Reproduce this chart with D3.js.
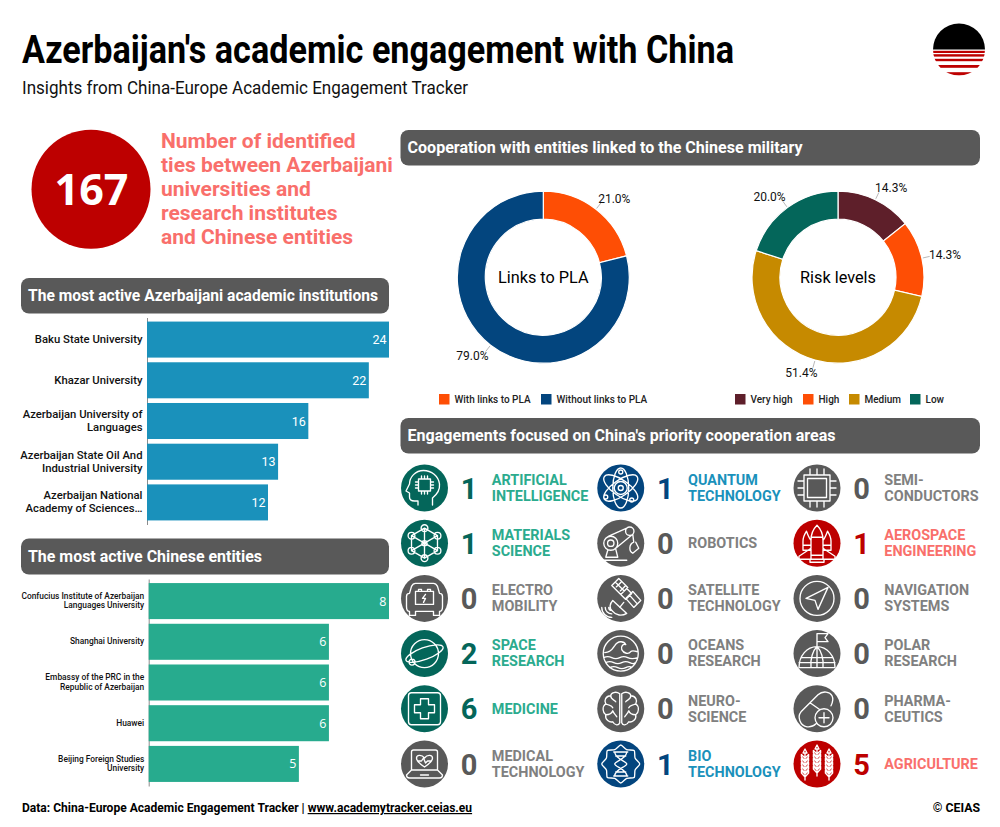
<!DOCTYPE html>
<html>
<head>
<meta charset="utf-8">
<title>Azerbaijan's academic engagement with China</title>
<script src="https://cdn.jsdelivr.net/npm/d3@7"></script>
<style>
    html, body { margin: 0; padding: 0; background: #fff; }
    svg { display: block; font-family: Roboto, sans-serif; }
    .cardHead { fill: #595959; }
    .cardTitle { fill: #fff; font-weight: 700; font-size: 16.2px; }
</style>
</head>
<body>
<div id="container"></div>
<script>
const institutions = ["Baku State University", "Khazar University", "Azerbaijan University of|Languages", "Azerbaijan State Oil And|Industrial University", "Azerbaijan National|Academy of Sciences…"];
const institutionTies = [24, 22, 16, 13, 12];

const entities = ["Confucius Institute of Azerbaijan|Languages University", "Shanghai University", "Embassy of the PRC in the|Republic of Azerbaijan", "Huawei", "Beijing Foreign Studies|University"];
const entityTies = [8, 6, 6, 6, 5];

const plaLabels = ["With links to PLA", "Without links to PLA"];
const plaShares = [21.0, 79.0];

const riskLabels = ["Very high", "High", "Medium", "Low"];
const riskShares = [14.3, 14.3, 51.4, 20.0];

const totalTies = 167;
const areaNames = [
    "ARTIFICIAL|INTELLIGENCE", "MATERIALS|SCIENCE", "ELECTRO|MOBILITY", "SPACE|RESEARCH", "MEDICINE", "MEDICAL|TECHNOLOGY",
    "QUANTUM|TECHNOLOGY", "ROBOTICS", "SATELLITE|TECHNOLOGY", "OCEANS|RESEARCH", "NEURO-|SCIENCE", "BIO|TECHNOLOGY",
    "SEMI-|CONDUCTORS", "AEROSPACE|ENGINEERING", "NAVIGATION|SYSTEMS", "POLAR|RESEARCH", "PHARMA-|CEUTICS", "AGRICULTURE"
];
const areaCounts = [1, 1, 0, 2, 6, 0, 1, 0, 0, 0, 0, 1, 0, 1, 0, 0, 0, 5];
const areaGroups = ["teal", "teal", "none", "teal", "teal", "none", "blue", "none", "none", "none", "none", "blue", "none", "red", "none", "none", "none", "red"];
const areaIcons = ["ai", "materials", "electro", "space", "medicine", "medtech", "quantum", "robotics", "satellite", "oceans", "neuro", "bio", "semi", "aero", "nav", "polar", "pharma", "agri"];

const RED = "#bd0000", SALMON = "#f96f6b", ORANGE = "#fe4e05", NAVY = "#03457e", MAROON = "#5e1f2a", GOLD = "#c68a00", TEAL = "#04665a";
const groupDark = {teal: TEAL, blue: NAVY, red: RED, none: "#595959"};
const groupLight = {teal: "#2bab8e", blue: "#1a91bb", red: "#f96f6b", none: "#808080"};

const svg = d3.select("#container").append("svg").attr("width", 1000).attr("height", 827);
svg.append("rect").attr("width", 1000).attr("height", 827).attr("fill", "#fff");

// title block
svg.append("text").attr("x", 22).attr("y", 63).attr("font-size", 38).attr("font-weight", 700).attr("fill", "#000")
    .attr("textLength", 712).attr("lengthAdjust", "spacingAndGlyphs")
    .text("Azerbaijan's academic engagement with China");
svg.append("text").attr("x", 22).attr("y", 94).attr("font-size", 18.5).attr("fill", "#111")
    .attr("textLength", 446).attr("lengthAdjust", "spacingAndGlyphs")
    .text("Insights from China-Europe Academic Engagement Tracker");

// logo
const logoClip = svg.append("clipPath").attr("id", "logoClip");
logoClip.append("circle").attr("cx", 959).attr("cy", 49.5).attr("r", 26);
const logo = svg.append("g").attr("clip-path", "url(#logoClip)");
logo.append("rect").attr("x", 930).attr("y", 20).attr("width", 60).attr("height", 29.5).attr("fill", "#000");
[[50.8, 2.2], [54.2, 2.4], [58.8, 2.4], [65, 2.8], [72.2, 3.4]].forEach(s => {
    logo.append("rect").attr("x", 930).attr("y", s[0]).attr("width", 60).attr("height", s[1]).attr("fill", RED);
});

// total ties
svg.append("circle").attr("cx", 91).attr("cy", 189.3).attr("r", 59.5).attr("fill", RED);
svg.append("text").attr("x", 91.5).attr("y", 205).attr("text-anchor", "middle").attr("fill", "#fff")
    .attr("font-family", "'Open Sans'").attr("font-weight", 700).attr("font-size", 43).text(totalTies);
["Number of identified", "ties between Azerbaijani", "universities and", "research institutes", "and Chinese entities"].forEach((line, i) => {
    svg.append("text").attr("x", 161).attr("y", 148 + i * 24).attr("font-size", 21).attr("font-weight", 700)
        .attr("fill", SALMON).text(line);
});

function cardHead(x, y, w, h, label, labelWidth) {
    svg.append("rect").attr("class", "cardHead").attr("x", x).attr("y", y).attr("width", w).attr("height", h).attr("rx", 8);
    svg.append("text").attr("class", "cardTitle").attr("x", x + 7).attr("y", y + h / 2 + 5.5)
        .attr("textLength", labelWidth).attr("lengthAdjust", "spacingAndGlyphs").text(label);
}
cardHead(21, 278, 368, 35.5, "The most active Azerbaijani academic institutions", 350);
cardHead(21, 538.5, 368, 36, "The most active Chinese entities", 234);
cardHead(400.5, 130, 579.5, 35.5, "Cooperation with entities linked to the Chinese military", 395);
cardHead(400.5, 418, 579.5, 35.5, "Engagements focused on China's priority cooperation areas", 428);

function barChart(names, values, opts) {
    const x = d3.scaleLinear().domain([0, d3.max(values)]).range([opts.left, 389]);
    const y = d3.scaleBand().domain(names).range([opts.top, opts.bottom]).paddingInner(0.115).paddingOuter(0.1);

    const axis = svg.append("g").attr("transform", `translate(${opts.left}, 0)`)
        .call(d3.axisLeft(y).tickSize(0).tickPadding(4).tickFormat(""));
    axis.select(".domain").attr("stroke", "#8c8c8c").attr("stroke-width", 1);
    axis.selectAll(".tick").each(function(d) {
        const lines = d.split("|");
        const label = d3.select(this).select("text").text(null)
            .attr("font-family", "Roboto").attr("font-weight", 500).attr("font-size", opts.labelSize)
            .attr("fill", "#111").attr("dy", null).attr("x", -4.5);
        lines.forEach((line, i) => {
            label.append("tspan").attr("x", -4.5)
                .attr("y", (i - (lines.length - 1) / 2) * opts.lineGap + opts.labelSize * 0.35 - 0.5)
                .text(line);
        });
    });

    svg.append("g").selectAll("rect").data(values).enter().append("rect")
        .attr("x", opts.left)
        .attr("y", (d, i) => y(names[i]))
        .attr("width", d => x(d) - opts.left)
        .attr("height", y.bandwidth())
        .attr("fill", opts.color);

    svg.append("g").selectAll("text").data(values).enter().append("text")
        .attr("x", d => x(d) - 2.5)
        .attr("y", (d, i) => y(names[i]) + y.bandwidth() / 2 + 4.5)
        .attr("text-anchor", "end")
        .attr("fill", "#fff")
        .attr("font-family", opts.valueFont)
        .attr("font-weight", 400)
        .attr("font-size", 12.5)
        .text(d => d);
}

barChart(institutions, institutionTies, {left: 147, top: 317.5, bottom: 524.5, color: "#1a91bb", labelSize: 11.3, lineGap: 13, valueFont: "Roboto"});
barChart(entities, entityTies, {left: 148.7, top: 579, bottom: 786, color: "#27ab8e", labelSize: 8.4, lineGap: 9.5, valueFont: "'Open Sans'"});

function donut(cx, names, shares, colors, centerLabel, legendSlots) {
    const cy = 277.2, outer = 86, inner = 58;
    const g = svg.append("g").attr("transform", `translate(${cx}, ${cy})`);
    const slices = d3.pie().sort(null)(shares);
    const arc = d3.arc().innerRadius(inner).outerRadius(outer);

    g.selectAll("path.slice").data(slices).enter().append("path").attr("class", "slice")
        .attr("d", arc)
        .attr("fill", (d, i) => colors[i])
        .attr("stroke", "#fff")
        .attr("stroke-width", 1.2);

    slices.forEach(s => {
        const mid = (s.startAngle + s.endAngle) / 2;
        const sx = Math.sin(mid), sy = -Math.cos(mid);
        g.append("line")
            .attr("x1", sx * (outer + 1)).attr("y1", sy * (outer + 1))
            .attr("x2", sx * (outer + 8)).attr("y2", sy * (outer + 8))
            .attr("stroke", "#999").attr("stroke-width", 0.7);
        g.append("text")
            .attr("x", sx * (outer + 13.5) + Math.sign(sx) * 10)
            .attr("y", sy * (outer + 13.5) + 4)
            .attr("text-anchor", "middle")
            .attr("font-size", 12)
            .attr("fill", "#111")
            .text(d3.format(".1f")(s.value) + "%");
    });

    g.append("text").attr("y", 6).attr("text-anchor", "middle").attr("font-size", 16.3).attr("fill", "#000").text(centerLabel);

    names.forEach((name, i) => {
        svg.append("rect").attr("x", legendSlots[i]).attr("y", 394).attr("width", 10.5).attr("height", 10.5).attr("fill", colors[i]);
        svg.append("text").attr("x", legendSlots[i] + 15.5).attr("y", 403).attr("font-size", 10).attr("font-weight", 500).attr("fill", "#222").text(name);
    });
}

donut(543.3, plaLabels, plaShares, [ORANGE, NAVY], "Links to PLA", [439, 541]);
donut(838, riskLabels, riskShares, [MAROON, ORANGE, GOLD, TEAL], "Risk levels", [735, 803, 849, 910]);

// line icons for the priority areas, drawn around the centre of each badge
const circ = (x, y, r) => `M${x - r} ${y}a${r} ${r} 0 1 0 ${2 * r} 0a${r} ${r} 0 1 0 ${-2 * r} 0`;
const orbit = (rx, ry, deg) => {
    const a = deg * Math.PI / 180, dx = rx * Math.cos(a), dy = rx * Math.sin(a);
    return `M${-dx} ${-dy}A${rx} ${ry} ${deg} 1 0 ${dx} ${dy}A${rx} ${ry} ${deg} 1 0 ${-dx} ${-dy}`;
};
const hexNodes = d3.range(6).map(i => [15 * Math.sin(i * Math.PI / 3), -15 * Math.cos(i * Math.PI / 3)]);
const wheat = (x, top) => {
    let d = `M${x} ${top + 4}V${top + 31}`;
    d3.range(5).forEach(i => {
        const y = top + 9 + i * 4;
        d += `M${x} ${y}L${x - 3.6} ${y - 3.6}V${y - 1}L${x} ${y + 3}L${x + 3.6} ${y - 1}V${y - 3.6}Z`;
    });
    return d + `M${x} ${top}l-2 4h4Z`;
};
const gearLine = d3.lineRadial().curve(d3.curveCardinalClosed.tension(0.3));
const gear = gearLine(d3.range(16).map(i => [i * Math.PI / 8, i % 2 ? 15.5 : 19]));

const iconPaths = {
    ai: "M8 17V10C13 6 15.5 1 15 -4C14 -12 7 -17.5 -1 -17.5C-9 -17.5 -15 -11 -15 -4L-18.5 3L-15 5V9C-15 12 -13 13 -10 13H-6.5V17M-6 -9H6V3H-6ZM-3 -12V-9M0 -12V-9M3 -12V-9M-3 3V6M0 3V6M3 3V6M-9 -6H-6M-9 -3H-6M-9 0H-6M6 -6H9M6 -3H9M6 0H9",
    materials: hexNodes.map(n => circ(n[0], n[1], 3.4)).join("") + circ(0, 0, 2.6)
        + hexNodes.map((n, i) => `M${n[0]} ${n[1]}L${hexNodes[(i + 1) % 6][0]} ${hexNodes[(i + 1) % 6][1]}L0 0Z`).join(""),
    electro: "M-15 13V17H-9V13H9V17H15V13C18 13 18 10 18 8V-2C18 -4 17 -5 15 -5L13 -12C12 -14 11 -15 9 -15H-9C-11 -15 -12 -14 -13 -12L-15 -5C-17 -5 -18 -4 -18 -2V8C-18 10 -18 13 -15 13ZM-9 -7H9V6H-9ZM-6 -7V-9H-3V-7M3 -7V-9H6V-7M1 -4L-2 0H1L-1 4",
    space: circ(0, 0, 14) + orbit(19.7, 6, -20) + circ(-12.5, 8.5, 3),
    medicine: "M-13 -16H13Q16 -16 16 -13V13Q16 16 13 16H-13Q-16 16 -16 13V-13Q-16 -16 -13 -16ZM-4 -10H4V-4H10V4H4V10H-4V4H-10V-4H-4Z",
    medtech: "M-13 6V-12Q-13 -14 -11 -14H11Q13 -14 13 -12V6M-18 11L-13 6H13L18 11Q18 14 15 14H-15Q-18 14 -18 11ZM-4 11H4M0 3C-6 -1 -8 -3 -8 -6C-8 -9 -3 -10 0 -6C3 -10 8 -9 8 -6C8 -3 6 -1 0 3ZM-7 -3H-3L-1 -6L1 -1L3 -3H7",
    quantum: orbit(20, 8, 35) + orbit(20, 8, 90) + orbit(20, 8, 145) + circ(0, 0, 6.5) + circ(0, 0, 2.5) + circ(0, -16, 2) + circ(-15, 9, 2) + circ(11, 12, 2),
    robotics: circ(-10, 0, 7) + circ(-10, 0, 3.2) + circ(9, -12, 4.2) + "M-12 -7L6 -15M-5 5L12 -9M12 -9L13 -1C8 1 8 8 12 10L18 5L15 -1M-13 7L-15 14H-3L-5 6M-18 17H6",
    satellite: "M-9 -13L-2 -20L7 -11L0 -4ZM-5.5 -16.5L3.5 -7.5M-0.5 -7.5L4.5 -12.5M-4.5 -11.5L0.5 -16.5M5 0L12 -7L20 2L13 9ZM8.5 -3.5L16.5 5.5M0 -4L6 -10L11 -5L5 1ZM-8 2L6 15C1 18 -5 17 -8 13C-12 10 -11 5 -8 2ZM-1 9L3 4M-19 9A10 10 0 0 0 -9 19M-15.5 9A6.5 6.5 0 0 0 -9 15.5M-12 9A3 3 0 0 0 -9 12",
    oceans: circ(0, 0, 17.5) + "M-16 -1C-10 -1 -8 -5 -6 -8C-3 -13 3 -13 5 -9C2 -10 0 -7 1 -4C3 0 8 1 10 -2C12 -4 14 -2 17 -2M-17 4Q-13 2 -9 4T-1 4T7 4T17 4M-15 9Q-11 7 -7 9T1 9T9 9T15 9M-11 14Q-7 12 -3 14T5 14T11 14",
    neuro: "M-1 -15C-5 -18 -10 -16 -10 -13C-15 -13 -17 -8 -15 -5C-19 -2 -18 4 -15 6C-16 11 -11 14 -8 13C-6 17 -2 17 -1 14ZM-10 -13C-10 -9 -6 -9 -5 -7M-15 -5C-12 -3 -9 -4 -8 -1M-15 6C-12 6 -9 5 -8 2C-7 5 -5 6 -4 8M1 -15C5 -18 10 -16 10 -13C15 -13 17 -8 15 -5C19 -2 18 4 15 6C16 11 11 14 8 13C6 17 2 17 1 14ZM10 -13C10 -9 6 -9 5 -7M15 -5C12 -3 9 -4 8 -1M15 6C12 6 9 5 8 2C7 5 5 6 4 8",
    bio: gear + "M-6 -12C-6 -5 6 -3 6 0C6 3 -6 5 -6 12M6 -12C6 -5 -6 -3 -6 0C-6 3 6 5 6 12M-7 -12H7M-7 12H7M-5 -8H5M-5 8H5",
    semi: "M-13 -13H13V13H-13ZM-9.5 -9.5H9.5V9.5H-9.5ZM-7 -19V-13M0 -19V-13M7 -19V-13M-7 13V19M0 13V19M7 13V19M-19 -7H-13M-19 0H-13M-19 7H-13M13 -7H19M13 0H19M13 7H19",
    aero: "M0 -18C-5 -13 -6 -8 -6 -3V12H6V-3C6 -8 5 -13 0 -18ZM-6 -6H6M-6 -3C-8 -5 -9 -8 -10.5 -12C-13 -8 -14 -5 -14 -2V7H-6M6 -3C8 -5 9 -8 10.5 -12C13 -8 14 -5 14 -2V7H6M-14 2H-6M6 2H14M-6 5L-18 13V16H-6V12M6 5L18 13V16H6V12M-7 16V19H7V16M-6 16H6",
    nav: circ(0, 0, 17) + "M11 -11L-11 0L-2 2L1 11Z",
    polar: "M-18 14C-18 2 -10 -7 0 -7C10 -7 18 2 18 14ZM-6 14C-7 5 -4 -3 0 -7C4 -3 7 5 6 14M0 -7V14M-16 4H16M-18 9H18M0 -7V-20H11L8 -16L11 -12H0",
    pharma: "M-16 3L1 -14C6 -18.5 13 -17 15 -13C17 -9 15.5 -6 14 -3M-16 3C-20 8 -17 17 -10 18C-6 18.5 -3 17 -1 15M-7 -6L3 1" + circ(7, 9, 9) + "M7 4V14M2 9H12",
    agri: wheat(0, -19) + wheat(-12, -15) + wheat(12, -15)
};

// priority areas
const colX = d3.scalePoint().domain([0, 1, 2]).range([424.5, 817]);
const rowY = d3.scalePoint().domain(d3.range(6)).range([488, 764]);

areaNames.forEach((name, i) => {
    const col = Math.floor(i / 6), row = i % 6;
    const cx = colX(col), cy = rowY(row);
    const group = areaGroups[i];
    const cell = svg.append("g").attr("transform", `translate(${cx}, ${cy})`);

    cell.append("circle").attr("r", 23.5).attr("fill", groupDark[group]);
    cell.append("path").attr("d", iconPaths[areaIcons[i]])
        .attr("fill", "none").attr("stroke", "#fff").attr("stroke-width", 1.35)
        .attr("stroke-linejoin", "round").attr("stroke-linecap", "round");

    cell.append("text").attr("x", 44.5).attr("y", 10.5).attr("text-anchor", "middle")
        .attr("font-size", 29).attr("font-weight", 700).attr("fill", groupDark[group]).text(areaCounts[i]);

    const lines = name.split("|");
    lines.forEach((line, j) => {
        cell.append("text").attr("x", 67.3)
            .attr("y", lines.length > 1 ? -3.2 + j * 16 : 5)
            .attr("font-size", 14.4).attr("font-weight", 700)
            .attr("fill", groupLight[group]).text(line);
    });
});

// footer
const source = svg.append("text").attr("x", 22).attr("y", 812).attr("font-size", 12.05).attr("font-weight", 700).attr("fill", "#000");
source.append("tspan").text("Data: China-Europe Academic Engagement Tracker | ");
source.append("tspan").attr("text-decoration", "underline").text("www.academytracker.ceias.eu");
svg.append("text").attr("x", 980).attr("y", 812).attr("text-anchor", "end").attr("font-size", 12.3).attr("font-weight", 700).attr("fill", "#000").text("© CEIAS");
</script>
</body>
</html>
